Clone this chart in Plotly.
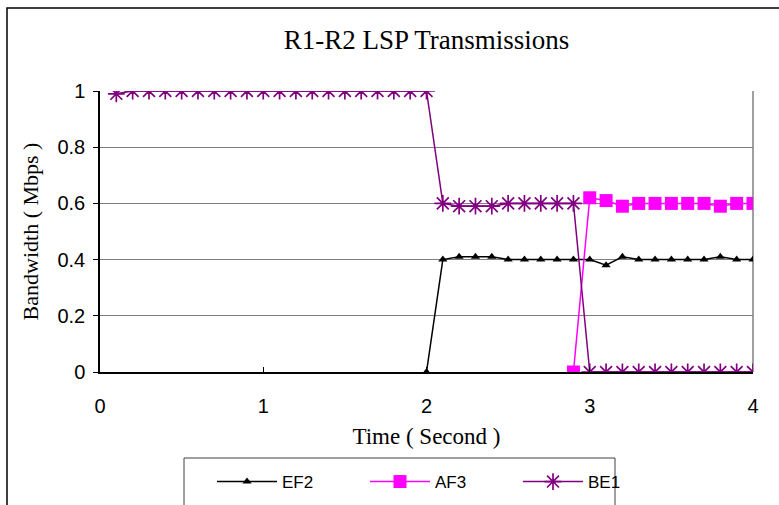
import plotly.graph_objects as go

# ---- data ----
be1_x = [0.1, 0.2, 0.3, 0.4, 0.5, 0.6, 0.7, 0.8, 0.9, 1.0, 1.1, 1.2, 1.3, 1.4, 1.5, 1.6, 1.7, 1.8, 1.9, 2.0,
         2.1, 2.2, 2.3, 2.4, 2.5, 2.6, 2.7, 2.8, 2.9,
         3.0, 3.1, 3.2, 3.3, 3.4, 3.5, 3.6, 3.7, 3.8, 3.9, 4.0]
be1_y = [0.99, 1.0, 1.0, 1.0, 1.0, 1.0, 1.0, 1.0, 1.0, 1.0, 1.0, 1.0, 1.0, 1.0, 1.0, 1.0, 1.0, 1.0, 1.0, 1.0,
         0.60, 0.59, 0.59, 0.59, 0.60, 0.60, 0.60, 0.60, 0.60,
         0, 0, 0, 0, 0, 0, 0, 0, 0, 0, 0]

ef2_x = [2.0, 2.1, 2.2, 2.3, 2.4, 2.5, 2.6, 2.7, 2.8, 2.9, 3.0, 3.1, 3.2, 3.3, 3.4, 3.5, 3.6, 3.7, 3.8, 3.9, 4.0]
ef2_y = [0.0, 0.40, 0.41, 0.41, 0.41, 0.40, 0.40, 0.40, 0.40, 0.40, 0.40, 0.38, 0.41, 0.40, 0.40, 0.40, 0.40,
         0.40, 0.41, 0.40, 0.40]

af3_x = [2.9, 3.0, 3.1, 3.2, 3.3, 3.4, 3.5, 3.6, 3.7, 3.8, 3.9, 4.0]
af3_y = [0.0, 0.62, 0.61, 0.59, 0.60, 0.60, 0.60, 0.60, 0.60, 0.59, 0.60, 0.60]

x_ticks = [0, 1, 2, 3, 4]
y_ticks = [0, 0.2, 0.4, 0.6, 0.8, 1]
y_tick_labels = ["0", "0.2", "0.4", "0.6", "0.8", "1"]

title_text = "R1-R2 LSP Transmissions"
x_title = "Time ( Second )"
y_title = "Bandwidth ( Mbps )"

# ---- layout geometry ----
W, H = 779, 505
ML, MR, MT, MB = 100, 26, 91, 133
PW, PH = W - ML - MR, H - MT - MB

def px_to_paper_x(px):
    return (px - ML) / PW

def px_to_paper_y(py):
    return (H - MB - py) / PH

serif = "Liberation Serif, Times New Roman, serif"
sans = "Liberation Sans, Arial, sans-serif"

fig = go.Figure()

fig.add_trace(go.Scatter(
    x=ef2_x, y=ef2_y, name="EF2", mode="lines+markers",
    line=dict(color="black", width=1.5),
    marker=dict(symbol="triangle-up", size=8, color="black"),
))
fig.add_trace(go.Scatter(
    x=af3_x, y=af3_y, name="AF3", mode="lines+markers",
    line=dict(color="#FF00FF", width=1.5),
    marker=dict(symbol="square", size=13, color="#FF00FF"),
))
fig.add_trace(go.Scatter(
    x=be1_x, y=be1_y, name="BE1", mode="lines+markers",
    line=dict(color="#800080", width=1.5),
    marker=dict(symbol="asterisk-open", size=14, color="#800080",
                line=dict(color="#800080", width=1.7)),
))

shapes = [
    # outer chart frame
    dict(type="rect", xref="paper", yref="paper",
         x0=px_to_paper_x(7), x1=px_to_paper_x(900),
         y0=px_to_paper_y(700), y1=px_to_paper_y(8),
         line=dict(color="black", width=1.5), layer="below"),
    # plot area right border (gray)
    dict(type="line", xref="paper", yref="paper", x0=1, x1=1, y0=0, y1=1,
         line=dict(color="#808080", width=1.5), layer="below"),
    # legend box
    dict(type="rect", xref="paper", yref="paper",
         x0=px_to_paper_x(184), x1=px_to_paper_x(615),
         y0=px_to_paper_y(520), y1=px_to_paper_y(458),
         line=dict(color="#404040", width=1), fillcolor="white", layer="below"),
]

fig.update_layout(
    width=W, height=H,
    margin=dict(l=ML, r=MR, t=MT, b=MB, autoexpand=False),
    paper_bgcolor="white", plot_bgcolor="white",
    title=dict(text=title_text, x=0.5, xref="paper", xanchor="center",
               y=1 - 40 / H, yanchor="middle",
               font=dict(family=serif, size=27, color="black")),
    xaxis=dict(range=[0, 4], tickvals=x_ticks, ticktext=[str(v) for v in x_ticks],
               showgrid=False, zeroline=False, automargin=False,
               showline=True, linecolor="black", linewidth=1.5,
               ticks="inside", ticklen=5, tickcolor="black",
               ticklabelstandoff=15,
               tickfont=dict(family=sans, size=20, color="black"),
               title=dict(text=x_title, font=dict(family=serif, size=23, color="black"), standoff=12)),
    yaxis=dict(range=[0, 1], tickvals=y_ticks, ticktext=y_tick_labels,
               showgrid=True, gridcolor="#808080", gridwidth=1,
               zeroline=False, automargin=False,
               showline=True, linecolor="black", linewidth=1.5,
               ticks="outside", ticklen=5, tickcolor="black",
               ticklabelstandoff=4,
               tickfont=dict(family=sans, size=20, color="black"),
               title=dict(text=y_title, font=dict(family=serif, size=22, color="black"), standoff=13)),
    legend=dict(orientation="h", x=px_to_paper_x(212), xanchor="left",
                y=px_to_paper_y(464), yanchor="top",
                borderwidth=0, bgcolor="rgba(0,0,0,0)",
                font=dict(family=sans, size=17, color="black"),
                entrywidth=78, entrywidthmode="pixels",
                itemwidth=60),
    shapes=shapes,
    showlegend=True,
)

fig.write_html("out.html")
